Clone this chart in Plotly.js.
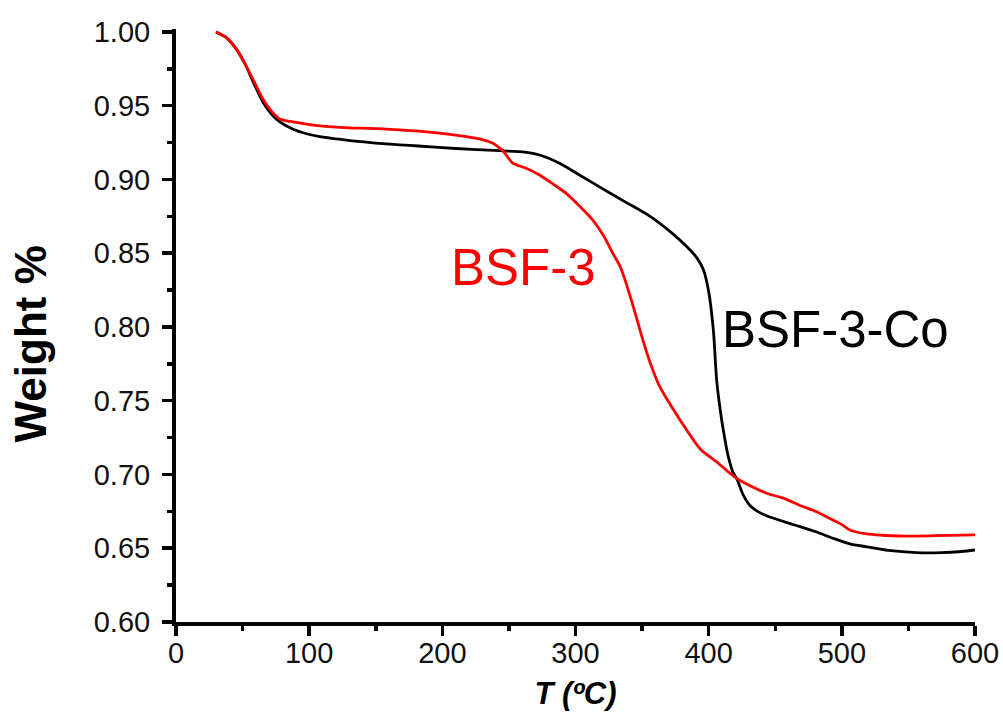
<!DOCTYPE html>
<html>
<head>
<meta charset="utf-8">
<script src="https://cdn.plot.ly/plotly-3.0.1.min.js"></script>
<style>html,body{margin:0;padding:0;background:#fff;}#chart{width:1003px;height:722px;}</style>
</head>
<body>
<div id="chart"></div>
<script>
// BSF-3-Co (black)
const tempCo = [30, 38, 45.6, 52, 58, 65.6, 72, 78, 88, 98, 108, 125, 146, 168, 182, 210, 243, 262, 273, 288, 303, 318, 337, 356, 372, 383.5, 391, 396, 400, 403.5, 406, 408.5, 411, 414.5, 418.5, 421, 426, 431, 437, 443.5, 460, 468.6, 481, 493.6, 506, 518.6, 535, 556, 575, 590, 600];
const weightCo = [1.000, 0.996, 0.988, 0.978, 0.966, 0.952, 0.944, 0.939, 0.934, 0.931, 0.929, 0.927, 0.925, 0.9235, 0.9227, 0.921, 0.9195, 0.9185, 0.9166, 0.911, 0.903, 0.895, 0.885, 0.875, 0.864, 0.8545, 0.847, 0.839, 0.824, 0.798, 0.764, 0.745, 0.730, 0.713, 0.701, 0.6974, 0.686, 0.679, 0.6748, 0.672, 0.667, 0.6647, 0.661, 0.6567, 0.653, 0.651, 0.6485, 0.647, 0.647, 0.6478, 0.6488];
// BSF-3 (red)
const tempBSF = [30, 38, 45.6, 52, 58, 65.6, 72, 78, 88, 108, 130, 146, 168, 182, 210, 230, 238, 242, 246, 250, 253, 263, 273, 283, 293, 303, 313, 321, 328, 334, 343, 350, 356, 363, 378.5, 393.5, 406, 421, 443.5, 456, 468.6, 481, 493.6, 500, 506, 518.6, 530, 543.7, 570, 600];
const weightBSF = [1.000, 0.996, 0.988, 0.978, 0.9675, 0.954, 0.946, 0.941, 0.939, 0.9363, 0.935, 0.9347, 0.9336, 0.9327, 0.930, 0.927, 0.9245, 0.922, 0.919, 0.914, 0.911, 0.9076, 0.903, 0.897, 0.8906, 0.882, 0.8725, 0.862, 0.850, 0.840, 0.815, 0.793, 0.776, 0.760, 0.737, 0.7175, 0.7085, 0.6974, 0.6873, 0.684, 0.679, 0.6748, 0.669, 0.666, 0.6624, 0.6597, 0.6588, 0.6583, 0.6585, 0.659];
const xTicks = [0, 100, 200, 300, 400, 500, 600];
const yTicks = [0.60, 0.65, 0.70, 0.75, 0.80, 0.85, 0.90, 0.95, 1.00];
const yTickText = ['0.60', '0.65', '0.70', '0.75', '0.80', '0.85', '0.90', '0.95', '1.00'];

const FONT = 'Liberation Sans, Arial, sans-serif';

const traces = [
  {x: tempCo, y: weightCo, type: 'scatter', mode: 'lines', name: 'BSF-3-Co',
   line: {color: '#000000', width: 2.8, shape: 'spline', smoothing: 0.8}},
  {x: tempBSF, y: weightBSF, type: 'scatter', mode: 'lines', name: 'BSF-3',
   line: {color: '#ff0000', width: 2.8, shape: 'spline', smoothing: 0.8}}
];

const layout = {
  width: 1003, height: 722,
  margin: {l: 176, r: 28, t: 29, b: 100, pad: 0},
  paper_bgcolor: '#ffffff', plot_bgcolor: '#ffffff',
  showlegend: false,
  font: {family: FONT, color: '#000000'},
  xaxis: {
    range: [0, 600], tickvals: xTicks, ticktext: xTicks.map(String),
    showgrid: false, zeroline: false,
    showline: true, linecolor: '#000', linewidth: 4,
    ticks: 'outside', ticklen: 10, tickwidth: 3.5, tickcolor: '#000',
    minor: {dtick: 50, ticks: 'outside', ticklen: 5, tickwidth: 3.5, tickcolor: '#000', showgrid: false},
    tickfont: {family: FONT, size: 29, color: '#111'},
    ticklabelstandoff: -8,
    title: {text: '<b><i>T (ºC)</i></b>', font: {family: FONT, size: 31, color: '#000'}, standoff: 16}
  },
  yaxis: {
    range: [0.6, 1.002], tickvals: yTicks, ticktext: yTickText,
    showgrid: false, zeroline: false,
    showline: true, linecolor: '#000', linewidth: 4,
    ticks: 'outside', ticklen: 10, tickwidth: 3.5, tickcolor: '#000',
    minor: {dtick: 0.025, ticks: 'outside', ticklen: 5, tickwidth: 3.5, tickcolor: '#000', showgrid: false},
    tickfont: {family: FONT, size: 29, color: '#111'},
    ticklabelstandoff: 6,
    title: {text: '<b>Weight %&nbsp;&nbsp;&nbsp;</b>', font: {family: FONT, size: 44, color: '#000'}, standoff: 34}
  },
  annotations: [
    {x: 260.6, y: 0.84, xref: 'x', yref: 'y', text: 'BSF-3', showarrow: false,
     font: {family: FONT, size: 51, color: '#ff0000'}, xanchor: 'center', yanchor: 'middle'},
    {x: 494.9, y: 0.798, xref: 'x', yref: 'y', text: 'BSF-3-Co', showarrow: false,
     font: {family: FONT, size: 51, color: '#000000'}, xanchor: 'center', yanchor: 'middle'}
  ]
};

Plotly.newPlot('chart', traces, layout, {displayModeBar: false, staticPlot: true});
</script>
</body>
</html>
